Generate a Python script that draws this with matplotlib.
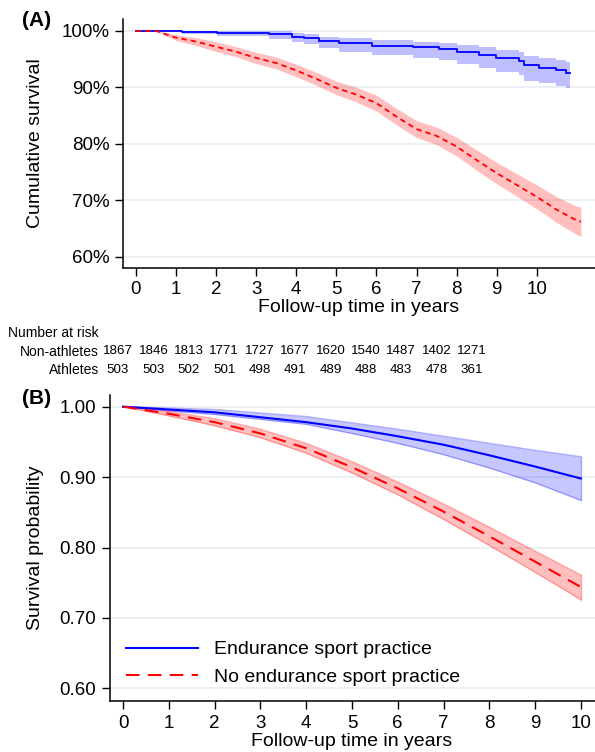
import numpy as np
import matplotlib
matplotlib.use("Agg")
import matplotlib.pyplot as plt

plt.rcParams['font.family'] = ['Liberation Sans', 'DejaVu Sans']

# ---- Panel A: Kaplan-Meier (percent) ----
ath_t = [0, 1.15, 2.03, 3.33, 3.9, 4.2, 4.58, 5.07, 5.9, 6.9, 7.57, 8.0, 8.56, 8.98, 9.55, 9.68, 10.05, 10.47, 10.72, 10.82]
ath_v = [100, 99.8, 99.7, 99.4, 99.0, 98.8, 98.2, 97.8, 97.4, 97.1, 96.8, 96.2, 95.7, 95.2, 94.7, 94.0, 93.5, 93.1, 92.5, 92.5]
ath_lo = [100, 99.4, 99.1, 98.6, 98.0, 97.6, 97.0, 96.3, 95.7, 95.2, 94.8, 94.2, 93.4, 92.8, 92.2, 91.2, 90.7, 90.3, 89.8, 89.8]
ath_hi = [100, 100, 100, 99.9, 99.6, 99.4, 99.0, 98.7, 98.4, 98.1, 97.8, 97.5, 97.1, 96.6, 96.2, 95.6, 95.2, 94.9, 94.5, 94.5]

non_t = [0, 0.5, 1, 1.5, 2, 2.5, 3, 3.5, 4, 4.5, 5, 5.5, 6, 6.5, 7, 7.5, 8, 8.5, 9, 9.5, 10, 10.5, 11, 11.1]
non_v = [100, 100, 98.8, 98.1, 97.2, 96.3, 95.2, 94.3, 93.0, 91.5, 89.9, 88.7, 87.2, 84.8, 82.6, 81.4, 79.5, 77.1, 74.8, 72.7, 70.6, 68.3, 66.4, 66.2]
non_lo = [100, 99.9, 98.3, 97.4, 96.35, 95.4, 94.2, 93.25, 91.9, 90.35, 88.7, 87.4, 85.8, 83.35, 81.1, 79.85, 77.85, 75.3, 72.9, 70.7, 68.5, 66.0, 63.9, 63.6]
non_hi = [100, 100, 99.3, 98.8, 98.05, 97.2, 96.2, 95.35, 94.1, 92.65, 91.1, 90.0, 88.6, 86.25, 84.1, 82.95, 81.15, 78.9, 76.7, 74.7, 72.7, 70.6, 68.9, 68.8]

risk_non = [1867, 1846, 1813, 1771, 1727, 1677, 1620, 1540, 1487, 1402, 1271]
risk_ath = [503, 503, 502, 501, 498, 491, 489, 488, 483, 478, 361]

# ---- Panel B: modelled survival ----
years = [0, 1, 2, 3, 4, 5, 6, 7, 8, 9, 10]
end_v = [1.000, 0.996, 0.992, 0.985, 0.978, 0.969, 0.958, 0.946, 0.931, 0.915, 0.898]
end_lo = [1.000, 0.994, 0.989, 0.982, 0.975, 0.962, 0.948, 0.932, 0.913, 0.892, 0.867]
end_hi = [1.000, 0.998, 0.996, 0.991, 0.986, 0.977, 0.968, 0.958, 0.948, 0.938, 0.929]
no_v = [1.000, 0.990, 0.978, 0.962, 0.941, 0.914, 0.884, 0.851, 0.816, 0.780, 0.744]
no_lo = [1.000, 0.987, 0.973, 0.956, 0.934, 0.906, 0.875, 0.840, 0.803, 0.765, 0.726]
no_hi = [1.000, 0.993, 0.983, 0.968, 0.948, 0.922, 0.893, 0.862, 0.829, 0.795, 0.761]

W, H = 595, 752
fig = plt.figure(figsize=(W / 100, H / 100), dpi=100)

grid_c = '#e8eef1'
tick_fs = 13.5
lab_fs = 14


def style_axes(ax):
    for s in ['top', 'right']:
        ax.spines[s].set_visible(False)
    for s in ['left', 'bottom']:
        ax.spines[s].set_linewidth(1.1)
    ax.tick_params(direction='out', length=5.8, width=1, labelsize=tick_fs, pad=3.5)
    ax.yaxis.grid(True, color=grid_c, lw=1.2)
    ax.set_axisbelow(True)


# Panel A
axA = fig.add_axes([123 / W, 1 - 268 / H, (W - 123) / W, (268 - 19) / H])
style_axes(axA)
axA.fill_between(ath_t, ath_lo, ath_hi, step='post', color='#0000ff', alpha=0.25, lw=0)
axA.fill_between(non_t, non_lo, non_hi, color='#ff0000', alpha=0.25, lw=0)
axA.plot(ath_t, ath_v, drawstyle='steps-post', color='#0000ff', lw=1.3)
axA.plot(non_t, non_v, color='#ff0000', lw=1.3, dashes=(3, 2.2))
axA.set_xlim(-0.32, 11.45)
axA.set_ylim(58, 102.1)
axA.set_xticks(range(0, 11))
axA.set_yticks([60, 70, 80, 90, 100])
axA.set_yticklabels([f'{v}%' for v in [60, 70, 80, 90, 100]])
fig.text(22 / W, 1 - 20 / H, '(A)', fontsize=15, fontweight='bold', ha='left', va='center')
fig.text(36 / W, 1 - 143.5 / H, 'Cumulative survival', rotation=90, fontsize=lab_fs, ha='center', va='center')
fig.text(359 / W, 1 - 308 / H, 'Follow-up time in years', fontsize=lab_fs, ha='center', va='center')

# number at risk table
fig.text(8 / W, 1 - 333 / H, 'Number at risk', fontsize=10, ha='left', va='center')
fig.text(99 / W, 1 - 351.5 / H, 'Non-athletes', fontsize=10, ha='right', va='center')
fig.text(99 / W, 1 - 370 / H, 'Athletes', fontsize=10, ha='right', va='center')
for i, (n1, n2) in enumerate(zip(risk_non, risk_ath)):
    x = (118 + 35.4 * i) / W
    fig.text(x, 1 - 351.5 / H, str(n1), fontsize=9.6, ha='center', va='center')
    fig.text(x, 1 - 370 / H, str(n2), fontsize=9.6, ha='center', va='center')

# Panel B
axB = fig.add_axes([110.3 / W, 1 - 701 / H, (W - 110.3) / W, (701 - 395) / H])
style_axes(axB)
axB.tick_params(pad=4.5)
axB.fill_between(years, end_lo, end_hi, color='#0000ff', alpha=0.22, lw=0)
axB.plot(years, end_lo, color='#0000ff', alpha=0.3, lw=1)
axB.plot(years, end_hi, color='#0000ff', alpha=0.3, lw=1)
axB.plot([10, 10], [end_lo[-1], end_hi[-1]], color='#0000ff', alpha=0.3, lw=1)
axB.fill_between(years, no_lo, no_hi, color='#ff0000', alpha=0.25, lw=0)
axB.plot(years, no_lo, color='#ff0000', alpha=0.3, lw=1)
axB.plot(years, no_hi, color='#ff0000', alpha=0.3, lw=1)
axB.plot([10, 10], [no_lo[-1], no_hi[-1]], color='#ff0000', alpha=0.3, lw=1)
axB.plot(years, end_v, color='#0000ff', lw=1.5, label='Endurance sport practice')
axB.plot(years, no_v, color='#ff0000', lw=1.5, dashes=(6.5, 4), label='No endurance sport practice')
axB.set_xlim(-0.28, 10.31)
axB.set_ylim(0.582, 1.0166)
axB.set_xticks(range(0, 11))
axB.set_yticks([0.6, 0.7, 0.8, 0.9, 1.0])
axB.set_yticklabels(['0.60', '0.70', '0.80', '0.90', '1.00'])
axB.legend(loc='lower left', bbox_to_anchor=(0.032, 0.05), frameon=False, fontsize=lab_fs,
           handlelength=3.7, handletextpad=0.85, labelspacing=0.5, borderpad=0, borderaxespad=0)
fig.text(22 / W, 1 - 398 / H, '(B)', fontsize=15, fontweight='bold', ha='left', va='center')
fig.text(36 / W, 1 - 548 / H, 'Survival probability', rotation=90, fontsize=lab_fs, ha='center', va='center')
fig.text(352 / W, 1 - 741 / H, 'Follow-up time in years', fontsize=lab_fs, ha='center', va='center')

fig.savefig('out.png', dpi=100)
